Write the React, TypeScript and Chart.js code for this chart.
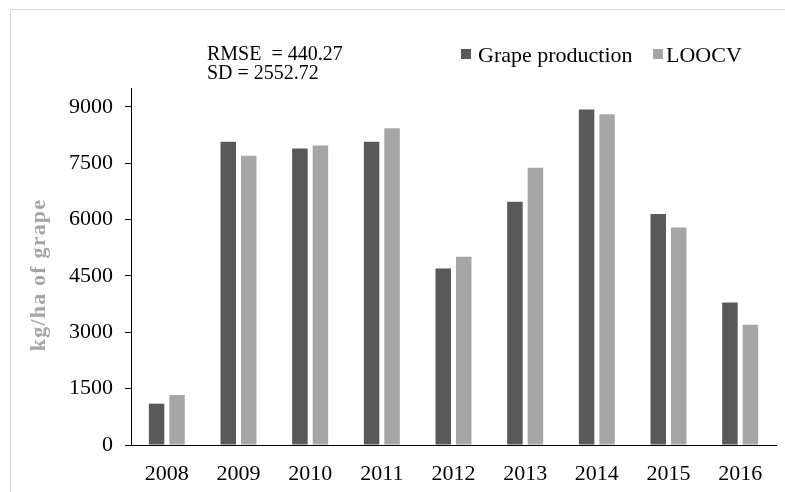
import React, { useEffect, useRef } from 'react';
import { Chart, registerables } from 'chart.js';

Chart.register(...registerables);

const years = ['2008', '2009', '2010', '2011', '2012', '2013', '2014', '2015', '2016'];
const grapeProduction = [1100, 8070, 7890, 8070, 4700, 6470, 8930, 6150, 3790];
const loocv = [1330, 7700, 7970, 8430, 5010, 7380, 8800, 5790, 3200];
const yTicks = [0, 1500, 3000, 4500, 6000, 7500, 9000];
const seriesNames = ['Grape production', 'LOOCV'];
const seriesColors = ['#595959', '#a6a6a6'];
const statsLines = ['RMSE  = 440.27', 'SD = 2552.72'];
const yAxisTitle = 'kg/ha of grape';

const FONT = "'Liberation Serif', 'Times New Roman', serif";

const decorPlugin = {
  id: 'decor',
  beforeDraw(chart: any) {
    const ctx = chart.ctx as CanvasRenderingContext2D;
    ctx.save();
    ctx.strokeStyle = '#d9d9d9';
    ctx.lineWidth = 1;
    ctx.strokeRect(10.5, 9.5, 820, 520);
    ctx.restore();
  },
  afterDraw(chart: any) {
    const ctx = chart.ctx as CanvasRenderingContext2D;
    ctx.save();
    // stats text
    ctx.fillStyle = '#000';
    ctx.font = `20px ${FONT}`;
    ctx.textAlign = 'left';
    ctx.textBaseline = 'alphabetic';
    statsLines.forEach((t, i) => ctx.fillText(t, 207, 60 + i * 18.5));

    // legend
    ctx.font = `22px ${FONT}`;
    const legendX = [461, 653];
    const textGap = [17, 13];
    chart.data.datasets.forEach((ds: any, i: number) => {
      ctx.fillStyle = ds.backgroundColor;
      ctx.fillRect(legendX[i], 49, 10, 10);
      ctx.fillStyle = '#000';
      ctx.fillText(ds.label, legendX[i] + textGap[i], 61.5);
    });

    // y axis title
    ctx.translate(45, 275);
    ctx.rotate(-Math.PI / 2);
    ctx.font = `bold 22px ${FONT}`;
    (ctx as any).letterSpacing = '1.2px';
    ctx.fillStyle = '#a6a6a6';
    ctx.textAlign = 'center';
    ctx.fillText(yAxisTitle, 0, 0);
    ctx.restore();
  },
};

export default function App() {
  const ref = useRef<HTMLCanvasElement>(null);
  useEffect(() => {
    document.body.style.margin = '0';
    const chart = new Chart(ref.current!, {
      type: 'bar',
      data: {
        labels: years,
        datasets: [
          { label: seriesNames[0], data: grapeProduction, backgroundColor: seriesColors[0], borderWidth: 0 },
          { label: seriesNames[1], data: loocv, backgroundColor: seriesColors[1], borderWidth: 0 },
        ],
      },
      options: {
        responsive: false,
        animation: false,
        categoryPercentage: 0.572,
        barPercentage: 0.756,
        layout: { padding: { top: 88, right: 9, left: 0, bottom: 0 } },
        plugins: { legend: { display: false }, tooltip: { enabled: false } },
        scales: {
          x: {
            grid: { display: false },
            border: { display: true, color: '#000', width: 1 },
            ticks: { color: '#000', font: { family: FONT, size: 22 }, padding: 8 },
            afterFit: (s: any) => { s.height = 47; },
          },
          y: {
            min: 0,
            max: 9500,
            grid: { display: true, drawOnChartArea: false, drawTicks: true, tickLength: 6, color: '#000' },
            border: { display: true, color: '#000', width: 1 },
            ticks: {
              color: '#000',
              font: { family: FONT, size: 22 },
              padding: 12,
              callback: (v: any) => String(v),
            },
            afterBuildTicks: (s: any) => { s.ticks = yTicks.map((v) => ({ value: v })); },
            afterFit: (s: any) => { s.width = 131; },
          },
        },
      } as any,
      plugins: [decorPlugin],
    });
    return () => chart.destroy();
  }, []);
  return (
    <div style={{ width: 785, height: 492 }}>
      <canvas ref={ref} width={785} height={492} />
    </div>
  );
}
